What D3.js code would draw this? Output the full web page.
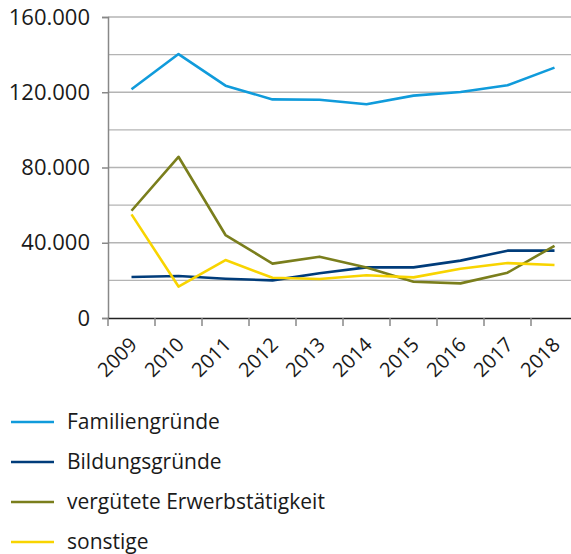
<!DOCTYPE html>
<html><head><meta charset="utf-8">
<script src="https://cdn.jsdelivr.net/npm/d3@7"></script>
<style>body{margin:0;background:#fff}svg{display:block}</style>
</head><body><svg id="c" width="571" height="554"></svg>
<script>
const years = ["2009","2010","2011","2012","2013","2014","2015","2016","2017","2018"];
const seriesNames = ["Familiengründe","Bildungsgründe","vergütete Erwerbstätigkeit","sonstige"];
const familie = [121600,140300,123500,116200,116000,113600,118200,120100,123700,133100];
const bildung = [21800,22300,20900,20000,23800,26900,26900,30500,35800,35800];
const erwerb = [57000,85700,44100,28900,32600,26900,19300,18400,24100,38400];
const sonstige = [55100,16700,30800,21400,20700,22700,21600,26200,29200,28200];
const yTicks = [0,40000,80000,120000,160000];
const colors = ["#109bdb","#003c7a","#7a7e1c","#f8d400"];
const data = [familie,bildung,erwerb,sonstige];

const svg = d3.select("#c");
const x = d3.scaleBand().domain(years).range([108,578]);
const y = d3.scaleLinear().domain([0,160000]).range([318,17]);
const fmt = v => d3.format(",")(v).replace(/,/g,".");

// gridlines every 20000
svg.append("g").selectAll("line").data(d3.range(20000,160001,20000)).join("line")
  .attr("x1",108).attr("x2",571).attr("y1",d=>y(d)).attr("y2",d=>y(d))
  .attr("stroke","#b4b4b4").attr("stroke-width",1.3);

// y axis
const ya = svg.append("g").attr("transform","translate(108,0)")
  .call(d3.axisLeft(y).tickValues(yTicks).tickFormat(fmt).tickSize(6).tickPadding(12));
ya.select(".domain").attr("stroke","#888").attr("stroke-width",1.5);
ya.selectAll(".tick line").attr("stroke","#888").attr("stroke-width",1.5);
ya.selectAll("text").attr("font-family","'Open Sans',sans-serif").attr("font-size",22).attr("fill","#1a1a1a");

// x axis
const xa = svg.append("g").attr("transform","translate(0,318)")
  .call(d3.axisBottom(x).tickSize(0).tickFormat(""));
xa.select(".domain").attr("stroke","#222").attr("stroke-width",1.3);
svg.append("g").selectAll("line").data(years).join("line")
  .attr("x1",d=>x(d)).attr("x2",d=>x(d)).attr("y1",318).attr("y2",326)
  .attr("stroke","#888").attr("stroke-width",1.5);
svg.append("g").selectAll("text").data(years).join("text")
  .attr("transform",d=>`translate(${x(d)+x.bandwidth()/2+2},${341}) rotate(-45)`)
  .attr("text-anchor","end").attr("dy","0.35em")
  .attr("font-family","'Open Sans',sans-serif").attr("font-size",20).attr("fill","#1a1a1a")
  .text(d=>d);

// lines
const line = d3.line().x((d,i)=>x(years[i])+x.bandwidth()/2).y(d=>y(d));
svg.append("g").selectAll("path").data(data).join("path")
  .attr("d",line).attr("fill","none").attr("stroke",(d,i)=>colors[i])
  .attr("stroke-width",2.6).attr("stroke-linejoin","round");

// legend
const lg = svg.append("g").selectAll("g").data(seriesNames).join("g")
  .attr("transform",(d,i)=>`translate(11,${422+i*40})`);
lg.append("line").attr("x1",0).attr("x2",43).attr("stroke",(d,i)=>colors[i]).attr("stroke-width",2.6);
lg.append("text").attr("x",56).attr("dy","0.35em")
  .attr("font-family","'Open Sans',sans-serif").attr("font-size",21).attr("fill","#1a1a1a").text(d=>d);
</script></body></html>
